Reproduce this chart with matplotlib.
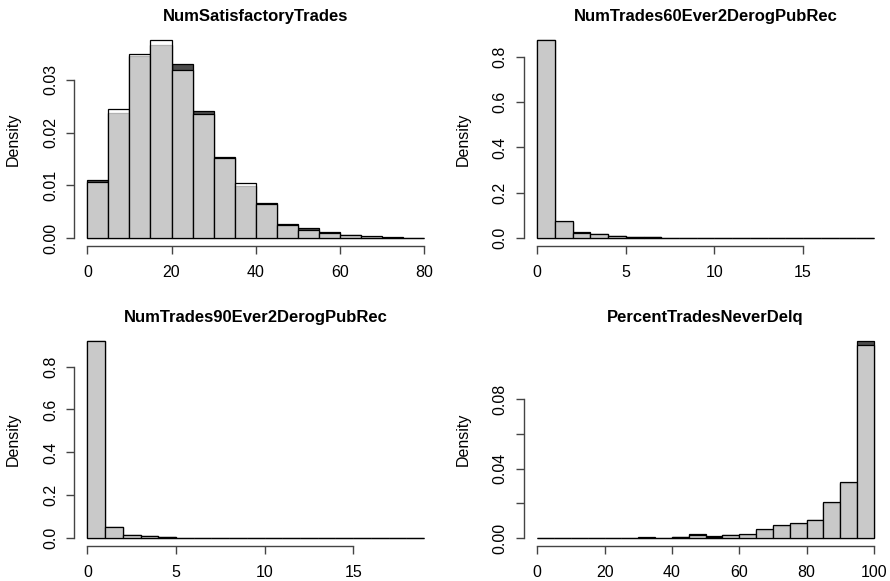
import numpy as np
import matplotlib.pyplot as plt

plt.rcParams['font.family'] = ['Liberation Sans', 'DejaVu Sans']

# NumSatisfactoryTrades, bins of width 5 from 0 to 80
sat_edges = list(range(0, 85, 5))
sat_a = [0.0110, 0.0238, 0.0346, 0.0366, 0.0330, 0.0241, 0.0153, 0.0099,
         0.0066, 0.0026, 0.0018, 0.0011, 0.0006, 0.0002, 0.0001, 0.00005]
sat_b = [0.0106, 0.0244, 0.0349, 0.0376, 0.0319, 0.0235, 0.0152, 0.0104,
         0.0065, 0.0025, 0.0015, 0.0010, 0.0005, 0.0003, 0.00005, 0.00003]

# NumTrades60Ever2DerogPubRec, bins of width 1 from 0 to 19
t60_edges = list(range(0, 20))
t60_a = [0.875, 0.072, 0.025, 0.016, 0.009, 0.0045, 0.003, 0.0008, 0.0005, 0.0004,
         0.0003, 0.0003, 0.0002, 0.0002, 0.0002, 0.0001, 0.0001, 0.0001, 0.0001]
t60_b = [0.874, 0.073, 0.024, 0.016, 0.008, 0.0045, 0.003, 0.0007, 0.0005, 0.0004,
         0.0003, 0.0002, 0.0002, 0.0002, 0.0001, 0.0001, 0.0001, 0.0001, 0.0001]

# NumTrades90Ever2DerogPubRec, bins of width 1 from 0 to 19
t90_edges = list(range(0, 20))
t90_a = [0.921, 0.051, 0.014, 0.008, 0.004, 0.0015, 0.0008, 0.0005, 0.0004, 0.0003,
         0.0003, 0.0002, 0.0002, 0.0001, 0.0001, 0.0001, 0.0001, 0.0001, 0.0001]
t90_b = [0.921, 0.050, 0.013, 0.008, 0.004, 0.0014, 0.0007, 0.0005, 0.0004, 0.0003,
         0.0002, 0.0002, 0.0002, 0.0001, 0.0001, 0.0001, 0.0001, 0.0001, 0.0001]

# PercentTradesNeverDelq, bins of width 5 from 0 to 100
pct_edges = list(range(0, 105, 5))
pct_a = [0.0002, 0.0001, 0.0001, 0.0001, 0.0001, 0.0001, 0.0002, 0.0002, 0.0003, 0.0021,
         0.0010, 0.0020, 0.0020, 0.0048, 0.0072, 0.0083, 0.0105, 0.0203, 0.0318, 0.1138]
pct_b = [0.0001, 0.0001, 0.0001, 0.0001, 0.0001, 0.0001, 0.0004, 0.0002, 0.0003, 0.0019,
         0.0008, 0.0019, 0.0021, 0.0050, 0.0073, 0.0084, 0.0104, 0.0205, 0.0325, 0.1111]

panels = [
    ("NumSatisfactoryTrades", sat_edges, sat_a, sat_b, [0, 20, 40, 60, 80],
     [0, 0.01, 0.02, 0.03], ["0.00", "0.01", "0.02", "0.03"]),
    ("NumTrades60Ever2DerogPubRec", t60_edges, t60_a, t60_b, [0, 5, 10, 15],
     [0, 0.2, 0.4, 0.6, 0.8], ["0.0", "0.2", "0.4", "0.6", "0.8"]),
    ("NumTrades90Ever2DerogPubRec", t90_edges, t90_a, t90_b, [0, 5, 10, 15],
     [0, 0.2, 0.4, 0.6, 0.8], ["0.0", "0.2", "0.4", "0.6", "0.8"]),
    ("PercentTradesNeverDelq", pct_edges, pct_a, pct_b, [0, 20, 40, 60, 80, 100],
     [0, 0.02, 0.04, 0.06, 0.08], ["0.00", "", "0.04", "", "0.08"]),
]

positions = [
    [0.0830, 0.5768, 0.4086, 0.3683],
    [0.5885, 0.5768, 0.4086, 0.3683],
    [0.0830, 0.0604, 0.4086, 0.3668],
    [0.5885, 0.0604, 0.4086, 0.3668],
]

fig = plt.figure(figsize=(8.9, 5.81), dpi=100)

for pos, (title, edges, a, b, xt, yt, ytl) in zip(positions, panels):
    ax = fig.add_axes(pos)
    edges = np.array(edges, dtype=float)
    widths = np.diff(edges)
    ax.bar(edges[:-1], a, width=widths, align='edge',
           color=(0, 0, 0, 0.7), edgecolor='black', linewidth=0.9)
    ax.bar(edges[:-1], b, width=widths, align='edge',
           color=(1, 1, 1, 0.7), edgecolor='black', linewidth=0.9)

    x0, x1 = edges[0], edges[-1]
    ymax = max(max(a), max(b))
    ax.set_xlim(x0 - 0.04 * (x1 - x0), x1 + 0.04 * (x1 - x0))
    ax.set_ylim(-0.04 * ymax, ymax * 1.04)

    for s in ['top', 'right']:
        ax.spines[s].set_visible(False)
    for s in ['left', 'bottom']:
        ax.spines[s].set_color('#444444')
        ax.spines[s].set_linewidth(1.0)
    ax.spines['bottom'].set_bounds(xt[0], xt[-1])
    ax.spines['left'].set_bounds(yt[0], yt[-1])

    ax.set_xticks(xt)
    ax.set_xticklabels([str(v) for v in xt])
    ax.set_yticks(yt)
    ax.set_yticklabels(ytl, rotation=90, va='center')
    ax.tick_params(length=6, width=1.0, color='#444444', labelsize=11.5)
    ax.tick_params(axis='x', pad=7.5)
    ax.tick_params(axis='y', pad=5.5)

    ax.set_title(title, fontsize=12, fontweight='bold', pad=8)
    ax.set_ylabel("Density", fontsize=11.5)
    ax.yaxis.set_label_coords(-0.145, 0.5)

fig.savefig("out.png", dpi=100)
